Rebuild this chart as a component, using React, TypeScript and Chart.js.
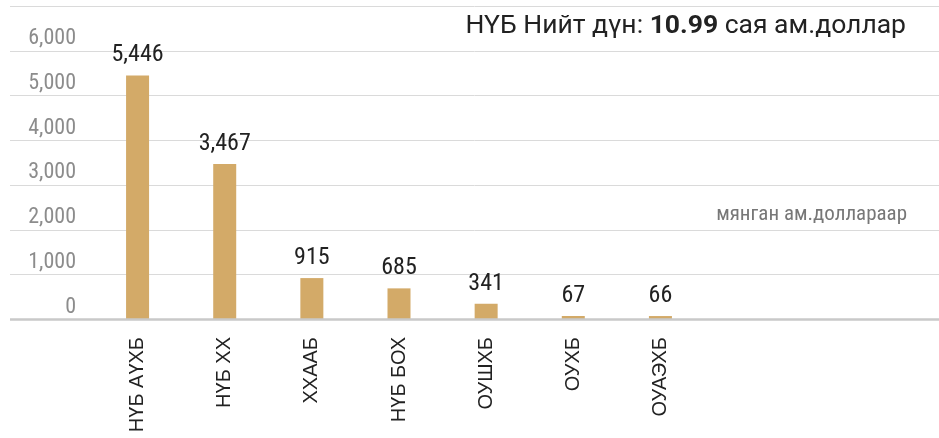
import React, { useEffect, useRef } from 'react';
import { Chart, registerables } from 'chart.js';

Chart.register(...registerables);

const categories = ['НҮБ АҮХБ', 'НҮБ ХХ', 'ХХААБ', 'НҮБ БОХ', 'ОУШХБ', 'ОУХБ', 'ОУАЭХБ'];
const values = [5446, 3467, 915, 685, 341, 67, 66];
const yMin = 0;
const yMax = 7000;
const yStep = 1000;
const titleParts = ['НҮБ Нийт дүн: ', '10.99', ' сая ам.доллар'];
const unitLabel = 'мянган ам.доллараар';

const NARROW = "'Liberation Sans Narrow', 'Roboto Condensed', 'DejaVu Sans Condensed', Roboto, sans-serif";
const fmt = (v: number) => String(v).replace(/\B(?=(\d{3})+(?!\d))/g, ',');

const gridPlugin = {
  id: 'fullGrid',
  beforeDatasetsDraw(chart: any) {
    const { ctx } = chart;
    const y = chart.scales.y;
    ctx.save();
    ctx.strokeStyle = '#dadada';
    ctx.lineWidth = 1;
    y.ticks.forEach((t: any) => {
      if (t.value === 0) return;
      const py = Math.round(y.getPixelForValue(t.value)) + 0.5;
      ctx.beginPath();
      ctx.moveTo(10, py);
      ctx.lineTo(chart.width, py);
      ctx.stroke();
    });
    ctx.restore();
  },
  afterDatasetsDraw(chart: any) {
    const { ctx } = chart;
    const y = chart.scales.y;
    const py = y.getPixelForValue(0);
    ctx.save();
    ctx.strokeStyle = '#c9c9c9';
    ctx.lineWidth = 2.5;
    ctx.beginPath();
    ctx.moveTo(10, py + 0.5);
    ctx.lineTo(chart.width, py + 0.5);
    ctx.stroke();
    ctx.restore();
  },
};

const valueLabelPlugin = {
  id: 'valueLabels',
  afterDatasetsDraw(chart: any) {
    const { ctx } = chart;
    const meta = chart.getDatasetMeta(0);
    ctx.save();
    ctx.font = `24px ${NARROW}`;
    ctx.fillStyle = '#222222';
    ctx.textAlign = 'center';
    ctx.textBaseline = 'alphabetic';
    meta.data.forEach((bar: any, i: number) => {
      ctx.fillText(fmt(values[i]), bar.x, bar.y - 14);
    });
    ctx.restore();
  },
};

const textPlugin = {
  id: 'texts',
  afterDraw(chart: any) {
    const { ctx } = chart;
    const y = chart.scales.y;
    ctx.save();
    const regular = '26.5px Roboto, sans-serif';
    const bold = 'bold 26.5px Roboto, sans-serif';
    const fonts = [regular, bold, regular];
    let total = 0;
    const widths = titleParts.map((p, i) => {
      ctx.font = fonts[i];
      const w = ctx.measureText(p).width;
      total += w;
      return w;
    });
    let x = chart.width - 33 - total;
    const baseline = chart.chartArea.top + 27;
    ctx.fillStyle = '#222222';
    ctx.textAlign = 'left';
    ctx.textBaseline = 'alphabetic';
    titleParts.forEach((p, i) => {
      ctx.font = fonts[i];
      ctx.fillText(p, x, baseline);
      x += widths[i];
    });
    ctx.font = `21px ${NARROW}`;
    ctx.fillStyle = '#777777';
    ctx.textAlign = 'right';
    ctx.fillText(unitLabel, chart.width - 32, y.getPixelForValue(2000) - 10);
    ctx.restore();
  },
};

export default function App() {
  const ref = useRef<HTMLCanvasElement | null>(null);
  useEffect(() => {
    document.body.style.margin = '0';
    if (!ref.current) return;
    const chart = new Chart(ref.current, {
      type: 'bar',
      data: {
        labels: categories,
        datasets: [
          {
            data: values,
            backgroundColor: '#D3AA68',
            barPercentage: 0.264,
            categoryPercentage: 1,
          },
        ],
      },
      options: {
        animation: false,
        responsive: false,
        devicePixelRatio: 1,
        layout: { padding: { top: 6, right: 235, left: 0, bottom: 0 } },
        plugins: {
          legend: { display: false },
          tooltip: { enabled: false },
          title: { display: false },
        },
        scales: {
          x: {
            grid: { display: false, drawTicks: false },
            border: { display: false },
            ticks: {
              minRotation: 90,
              maxRotation: 90,
              autoSkip: false,
              padding: 18,
              color: '#222222',
              font: { family: "'Liberation Sans', Arial, sans-serif", size: 20 },
            },
            afterFit: (s: any) => {
              s.height = 119;
              s.paddingLeft = 0;
              s.paddingRight = 0;
            },
          },
          y: {
            min: yMin,
            max: yMax,
            ticks: {
              stepSize: yStep,
              padding: 18,
              labelOffset: -12,
              color: '#8c8c8c',
              font: { family: NARROW, size: 22 },
              callback: (v: any) => (Number(v) >= yMax ? '' : fmt(Number(v))),
            },
            grid: { display: false, drawTicks: false },
            border: { display: false },
            afterFit: (s: any) => {
              s.width = 94;
              s.paddingTop = 0;
              s.paddingBottom = 0;
            },
          },
        },
      } as any,
      plugins: [gridPlugin, valueLabelPlugin, textPlugin],
    });
    return () => chart.destroy();
  }, []);
  return (
    <div style={{ width: 939, height: 438 }}>
      <canvas ref={ref} width={939} height={438} style={{ display: 'block' }} />
    </div>
  );
}
